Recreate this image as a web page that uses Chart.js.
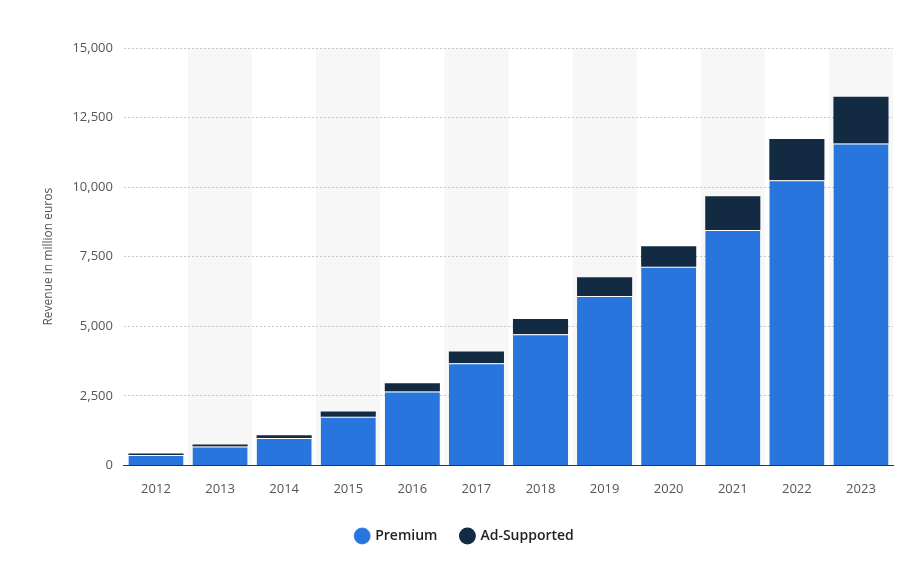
<!DOCTYPE html>
<html><head><meta charset="utf-8">
<script src="https://cdn.jsdelivr.net/npm/chart.js@4/dist/chart.umd.min.js"></script>
<style>html,body{margin:0;padding:0;background:#fff}#w{width:907px;height:571px}</style>
</head><body><div id="w"><canvas id="c"></canvas></div>
<script>
const years = ['2012','2013','2014','2015','2016','2017','2018','2019','2020','2021','2022','2023'];
const premium = [375, 676, 983, 1744, 2657, 3674, 4717, 6086, 7135, 8460, 10251, 11566];
const adSupported = [55, 71, 100, 196, 295, 416, 542, 678, 745, 1208, 1476, 1681];
const yTicks = [0, 2500, 5000, 7500, 10000, 12500, 15000];

const bands = {
  id: 'bands',
  beforeDraw(chart) {
    const {ctx, chartArea, scales: {x}} = chart;
    ctx.save(); ctx.fillStyle = '#f7f7f7';
    const w = x.getPixelForValue(1) - x.getPixelForValue(0);
    years.forEach((y, i) => {
      if (i % 2 === 1) {
        const cx = x.getPixelForValue(i);
        ctx.fillRect(cx - w/2, chartArea.top, w, chartArea.bottom - chartArea.top);
      }
    });
    ctx.restore();
  }
};

new Chart(document.getElementById('c'), {
  type: 'bar',
  data: { labels: years, datasets: [
    { label: 'Premium', data: premium, backgroundColor: '#2876dd', borderColor: '#fff', borderWidth: {top:1}, borderSkipped: 'bottom', stack: 's' },
    { label: 'Ad-Supported', data: adSupported, backgroundColor: '#132a43', stack: 's' }
  ]},
  options: {
    responsive: true, maintainAspectRatio: false, animation: false,
    layout: { padding: { left: 37, right: 14, top: 48, bottom: 18 } },
    datasets: { bar: { categoryPercentage: 0.86, barPercentage: 1 } },
    scales: {
      x: { stacked: true, grid: { display: false }, border: { color: '#333', width: 1 },
           ticks: { color: '#555', font: { family: 'Open Sans', size: 13 }, padding: 8 } },
      y: { stacked: true, min: 0, max: 15000, afterBuildTicks: s => { s.ticks = yTicks.map(v => ({value: v})); },
           grid: { color: '#c8c8c8', lineWidth: 1, drawTicks: false },
           border: { display: false, dash: [2,2] },
           ticks: { color: '#555', padding: 11, font: { family: 'Open Sans', size: 13 }, callback: v => v.toLocaleString('en-US') },
           title: { display: true, text: 'Revenue in million euros', color: '#555', font: { family: 'Open Sans', size: 12 }, padding: { bottom: 6 } } }
    },
    plugins: {
      legend: { position: 'bottom', labels: { usePointStyle: true, pointStyle: 'circle', boxWidth: 12, boxHeight: 12, padding: 24, color: '#222', font: { family: 'Open Sans', size: 14, weight: '600' } } },
      tooltip: { enabled: false }
    }
  },
  plugins: [bands]
});
</script></body></html>
